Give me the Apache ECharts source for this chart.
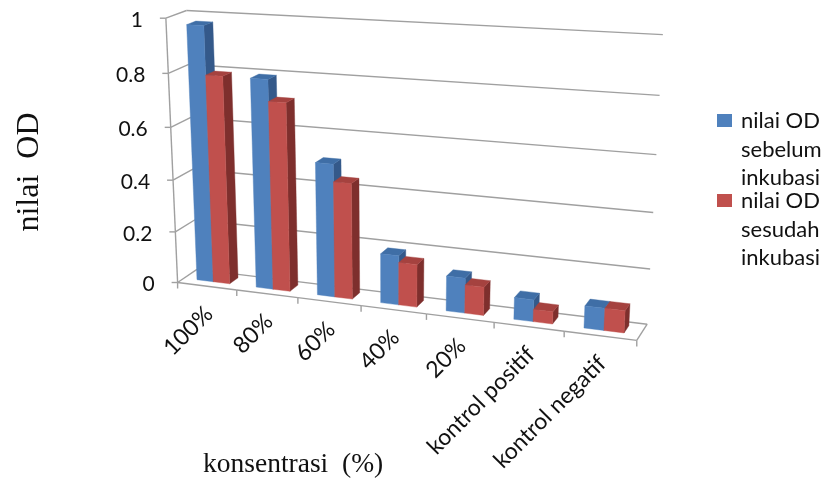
<!DOCTYPE html>
<html><head><meta charset="utf-8">
<style>html,body{margin:0;padding:0;background:#fff}#c{width:827px;height:478px}</style>
<script src="https://cdn.jsdelivr.net/npm/echarts@6/dist/echarts.min.js"></script>
</head><body><div id="c"></div>
<script>
const categories = ['100%','80%','60%','40%','20%','kontrol positif','kontrol negatif'];
const nilaiSebelum = [0.97,0.79,0.50,0.185,0.13,0.08,0.08];
const nilaiSesudah = [0.79,0.71,0.435,0.16,0.105,0.045,0.08];
const valueTicks = [0,0.2,0.4,0.6,0.8,1];
const tickLabels = ['0','0.2','0.4','0.6','0.8','1'];
const seriesNames = ['nilai OD\nsebelum\ninkubasi','nilai OD\nsesudah\ninkubasi'];

// Camera calibration of the 3D box: [along categories, depth, height, screenX, screenY]
const camera = [
 [0,0,0,178,281],[1/7,0,0,237,290],[2/7,0,0,298,298],[3/7,0,0,362,306],[4/7,0,0,426,315],[5/7,0,0,494,323],[6/7,0,0,563,333],[1,0,0,637,340],
 [0,1,0,195,271],[1,1,0,647,323],
 [0,0,.2,176,231],[0,0,.4,174,179],[0,0,.6,172,127],[0,0,.8,168,74],[0,0,1,163,18],
 [1,1,.2,651,268],[1,1,.4,653,212],[1,1,.6,656,154],[1,1,.8,660,96],[1,1,1,663,35],
 [0,1,1,188,11]
];
function solve(A,b){const n=b.length;A=A.map((r,i)=>r.concat(b[i]));
 for(let i=0;i<n;i++){let p=i;for(let k=i+1;k<n;k++)if(Math.abs(A[k][i])>Math.abs(A[p][i]))p=k;[A[i],A[p]]=[A[p],A[i]];
  for(let k=0;k<n;k++){if(k===i)continue;const f=A[k][i]/A[i][i];for(let j=i;j<=n;j++)A[k][j]-=f*A[i][j];}}
 return A.map((r,i)=>r[n]/r[i]);}
const M=(function(){const N=11,AtA=[...Array(N)].map(()=>Array(N).fill(0)),Atb=Array(N).fill(0);
 function add(r,t){for(let i=0;i<N;i++){Atb[i]+=r[i]*t;for(let j=0;j<N;j++)AtA[i][j]+=r[i]*r[j];}}
 camera.forEach(([u,d,v,x,y])=>{add([u,d,v,1,0,0,0,0,-x*u,-x*d,-x*v],x);add([0,0,0,0,u,d,v,1,-y*u,-y*d,-y*v],y);});
 return solve(AtA,Atb);})();
function P(u,d,v){const w=M[8]*u+M[9]*d+M[10]*v+1;return [(M[0]*u+M[1]*d+M[2]*v+M[3])/w,(M[4]*u+M[5]*d+M[6]*v+M[7])/w];}

const GRID={left:178,top:18,width:459,height:263};
const toU=x=>(x-GRID.left)/GRID.width, toV=y=>(GRID.top+GRID.height-y)/GRID.height;
const D0=0.33,D1=0.78,GAP=0.222;
const LINE='#a0a0a0', TXT='#111', SANS='Lato';

function barItem(seriesIdx,colors){return function(params,api){
 const c=api.coord([api.value(0),0]),t=api.coord([api.value(0),api.value(1)]),band=api.size([1,0])[0];
 const left=c[0]-band/2, w=(1-2*GAP)/2*band;
 const u0=toU(left+GAP*band+seriesIdx*w),u1=toU(left+GAP*band+(seriesIdx+1)*w),v=toV(t[1]);
 const poly=(pts,fill)=>({type:'polygon',shape:{points:pts},style:{fill,stroke:fill,lineWidth:0.4}});
 return {type:'group',children:[
  poly([P(u1,D0,0),P(u1,D1,0),P(u1,D1,v),P(u1,D0,v)],colors[2]),
  poly([P(u0,D0,v),P(u1,D0,v),P(u1,D1,v),P(u0,D1,v)],colors[1]),
  poly([P(u0,D0,0),P(u1,D0,0),P(u1,D0,v),P(u0,D0,v)],colors[0])
 ]};
};}
function line(a,b){return {type:'line',shape:{x1:a[0],y1:a[1],x2:b[0],y2:b[1]},style:{stroke:LINE,lineWidth:1.4}};}

const option={
 animation:false,backgroundColor:'#fff',
 grid:Object.assign({show:false},GRID),
 xAxis:{type:'category',data:categories,show:false},
 yAxis:{type:'value',min:0,max:1,interval:0.2,show:false},
 legend:[0,1].map(i=>({
  data:[seriesNames[i]],orient:'vertical',left:717,top:i===0?107:187,padding:0,itemWidth:19,itemHeight:85.5,itemGap:0,
  icon:'path://M0,7H15V20H0Z M19,0L19,0 M19,85.5L19,85.5',selectedMode:false,
  textStyle:{fontFamily:SANS,fontSize:22,color:TXT,lineHeight:28.5}
 })),
 graphic:[
  {type:'text',x:30,y:172,rotation:Math.PI/2,style:{text:'nilai  OD',font:'32px "Liberation Serif"',fill:TXT,align:'center',verticalAlign:'middle'}},
  {type:'text',x:203,y:465,style:{text:'konsentrasi  (%)',font:'27.5px "Liberation Serif"',fill:TXT,align:'left',verticalAlign:'middle'}}
 ],
 series:[
  {type:'custom',name:'frame-values',coordinateSystem:'cartesian2d',z:1,clip:false,silent:true,
   data:valueTicks.map((t,i)=>[0,t,i]),encode:{x:0,y:1},
   renderItem(params,api){
    const v=toV(api.coord([0,api.value(1)])[1]),i=api.value(2);
    const f=P(0,0,v),b=P(0,1,v),r=P(1,1,v);
    const kids=[line([f[0]-6,f[1]],f),line(f,b),line(b,r)];
    if(i<valueTicks.length-1){kids.push(line(f,P(0,0,toV(api.coord([0,valueTicks[i+1]])[1]))));}
    kids.push({type:'text',style:{text:tickLabels[i],x:f[0]-23,y:f[1]+2,align:'right',verticalAlign:'middle',font:'21px '+SANS,fill:TXT}});
    return {type:'group',children:kids};
   }},
  {type:'custom',name:'frame-categories',coordinateSystem:'cartesian2d',z:1,clip:false,silent:true,
   data:categories.map((c,i)=>[i,0]),encode:{x:0,y:1},
   renderItem(params,api){
    const i=api.value(0),c=api.coord([i,0]),band=api.size([1,0])[0];
    const ur=toU(c[0]+band/2),uc=toU(c[0]),pr=P(ur,0,0),pc=P(uc,0,0);
    const kids=[line(pr,[pr[0],pr[1]+6])];
    if(i===0){const o=P(0,0,0);kids.push(line(o,[o[0],o[1]+6]));}
    if(i===categories.length-1){kids.push(line(P(1,0,0),P(1,1,0)));}
    kids.unshift(line(P(toU(c[0]-band/2),0,0),pr));
    kids.push({type:'text',x:pc[0]+2,y:pc[1]+24,rotation:Math.PI/4,style:{text:categories[i],x:0,y:0,align:'right',verticalAlign:'middle',font:'23px '+SANS,fill:TXT}});
    return {type:'group',children:kids};
   }},
  {type:'custom',name:seriesNames[0],coordinateSystem:'cartesian2d',z:2,clip:false,silent:true,
   itemStyle:{color:'#4f81bd'},data:categories.map((c,i)=>[i,nilaiSebelum[i]]),encode:{x:0,y:1},
   renderItem:barItem(0,['#4f81bd','#3f6ea6','#34598a'])},
  {type:'custom',name:seriesNames[1],coordinateSystem:'cartesian2d',z:3,clip:false,silent:true,
   itemStyle:{color:'#c0504d'},data:categories.map((c,i)=>[i,nilaiSesudah[i]]),encode:{x:0,y:1},
   renderItem:barItem(1,['#c0504d','#a5423f','#7e2f2d'])}
 ]
};
echarts.init(document.getElementById('c'),null,{renderer:'canvas'}).setOption(option);
</script></body></html>
